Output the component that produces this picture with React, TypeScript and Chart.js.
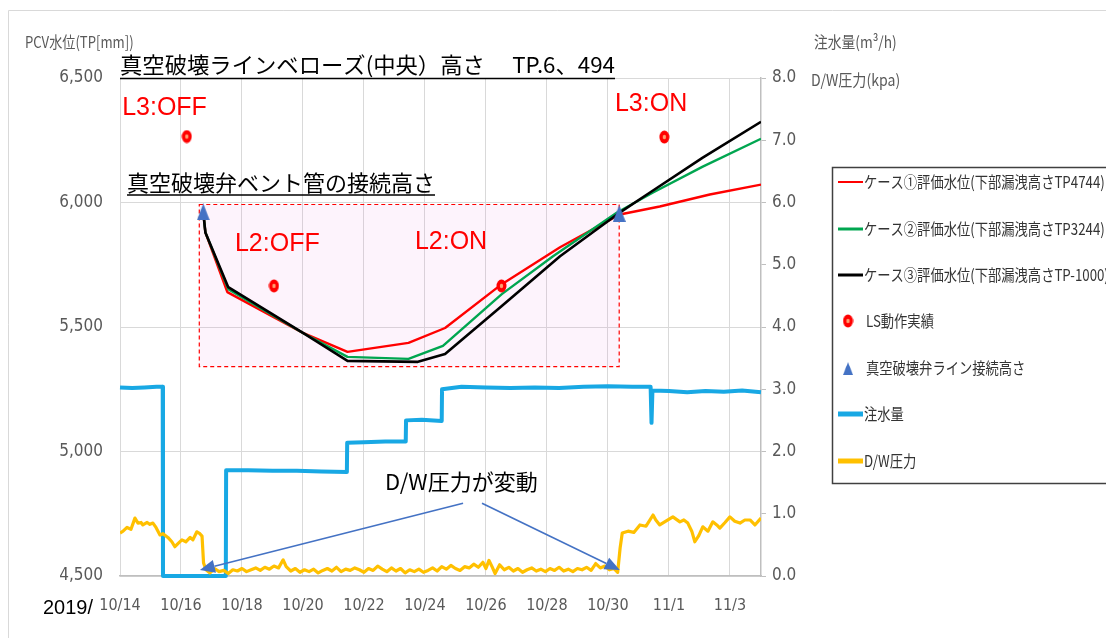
import React, { useEffect, useRef } from 'react';
import { Chart, registerables } from 'chart.js';

Chart.register(...registerables);

// ---------- data ----------
const xTickDays = [0, 2, 4, 6, 8, 10, 12, 14, 16, 18, 20];
const xTickLabels = ['10/14', '10/16', '10/18', '10/20', '10/22', '10/24', '10/26', '10/28', '10/30', '11/1', '11/3'];
const leftTicks = [4500, 5000, 5500, 6000, 6500];
const rightTicks = [0, 1, 2, 3, 4, 5, 6, 7, 8];

const case1Days = [2.73, 2.8, 3.52, 6.0, 7.46, 9.46, 10.66, 12.52, 14.43, 16.39, 17.7, 19.34, 21.02];
const case1Vals = [5960, 5880, 5640, 5476, 5400, 5436, 5496, 5672, 5820, 5952, 5984, 6032, 6072];

const case2Days = [2.73, 2.8, 3.55, 6.0, 7.46, 9.46, 10.59, 12.52, 14.2, 16.3, 17.48, 19.11, 21.02];
const case2Vals = [5960, 5880, 5652, 5476, 5380, 5372, 5424, 5632, 5784, 5960, 6040, 6144, 6256];

const case3Days = [2.73, 2.8, 3.55, 6.0, 7.46, 9.77, 10.66, 12.52, 14.43, 16.3, 17.38, 19.11, 21.02];
const case3Vals = [5960, 5880, 5660, 5476, 5364, 5360, 5392, 5584, 5784, 5952, 6040, 6180, 6324];

const lsDays = [2.19, 5.05, 12.51, 17.85];
const lsVals = [6265, 5665, 5665, 6263];

const ventDays = [2.73, 16.37];
const ventVals = [5962, 5956];

const flowDays = [0, 0.4, 0.8, 1.2, 1.4, 1.41, 3.47, 3.48, 4.2, 5.0, 5.8, 6.6, 7.44, 7.45, 8.0, 8.7, 9.37, 9.38, 9.9, 10.55, 10.56, 11.2, 12.0, 12.8, 13.6, 14.4, 15.2, 16.0, 16.8, 17.4, 17.43, 17.46, 18.0, 18.6, 19.2, 19.8, 20.4, 21.02];
const flowVals = [3.03, 3.02, 3.03, 3.04, 3.04, 0, 0, 1.7, 1.7, 1.69, 1.69, 1.68, 1.67, 2.14, 2.15, 2.16, 2.16, 2.5, 2.51, 2.49, 3.0, 3.04, 3.03, 3.02, 3.03, 3.02, 3.04, 3.05, 3.04, 3.04, 2.46, 2.98, 2.97, 2.95, 2.97, 2.96, 2.98, 2.95];

const dwDays = [
  0.0, 0.1, 0.23, 0.36, 0.49, 0.59, 0.69, 0.75, 0.89, 0.98, 1.08, 1.18, 1.31, 1.41, 1.57, 1.7, 1.8, 1.9, 2.03, 2.16,
  2.3, 2.39, 2.52, 2.62, 2.69, 2.74, 2.82, 2.95, 3.1, 3.25, 3.4, 3.55, 3.7, 3.85, 4.0, 4.15, 4.3, 4.45, 4.6, 4.75,
  4.9, 5.05, 5.2, 5.35, 5.45, 5.6, 5.75, 5.9, 6.05, 6.2, 6.35, 6.5, 6.65, 6.8, 6.95, 7.1, 7.25, 7.4, 7.55, 7.7,
  7.85, 8.0, 8.15, 8.3, 8.45, 8.6, 8.75, 8.9, 9.05, 9.2, 9.35, 9.5, 9.65, 9.8, 9.95, 10.1, 10.25, 10.4, 10.55, 10.7,
  10.85, 11.0, 11.15, 11.3, 11.45, 11.6, 11.75, 11.9, 12.0, 12.1, 12.2, 12.3, 12.45, 12.6, 12.75, 12.9, 13.05, 13.2, 13.35, 13.5,
  13.65, 13.8, 13.95, 14.1, 14.25, 14.4, 14.55, 14.7, 14.85, 15.0, 15.15, 15.3, 15.45, 15.6, 15.75, 15.9, 16.05, 16.2, 16.32, 16.4,
  16.47, 16.66, 16.85, 17.05, 17.25, 17.48, 17.57, 17.7, 17.9, 18.13, 18.36, 18.49, 18.62, 18.75, 18.85, 18.98, 19.11, 19.28, 19.44, 19.57,
  19.67, 19.84, 20.0, 20.16, 20.33, 20.49, 20.66, 20.82, 21.02,
];
const dwVals = [
  0.69, 0.72, 0.78, 0.75, 0.93, 0.85, 0.86, 0.82, 0.86, 0.83, 0.85, 0.78, 0.66, 0.68, 0.62, 0.55, 0.47, 0.52, 0.58, 0.55,
  0.62, 0.58, 0.71, 0.68, 0.64, 0.21, 0.1, 0.05, 0.12, 0.07, 0.09, 0.04, 0.1, 0.08, 0.12, 0.07, 0.1, 0.13, 0.09, 0.14,
  0.11, 0.16, 0.13, 0.26, 0.15, 0.08, 0.12, 0.06, 0.1, 0.07, 0.11, 0.05, 0.09, 0.12, 0.08, 0.14, 0.07, 0.11, 0.09, 0.13,
  0.1, 0.06, 0.12, 0.09, 0.16, 0.11, 0.07, 0.13, 0.08, 0.12, 0.05, 0.1, 0.07, 0.11, 0.06, 0.09, 0.13, 0.08, 0.15, 0.11,
  0.17, 0.12, 0.09, 0.15, 0.13, 0.19, 0.14, 0.22, 0.12, 0.25, 0.15, 0.04, 0.18, 0.1, 0.14, 0.08, 0.12, 0.06, 0.1, 0.13,
  0.08, 0.11, 0.07, 0.12, 0.09, 0.14, 0.08, 0.11, 0.07, 0.12, 0.1, 0.14, 0.09, 0.2, 0.13, 0.16, 0.1, 0.12, 0.06, 0.45,
  0.69, 0.72, 0.7, 0.82, 0.8, 0.98, 0.9, 0.82, 0.88, 0.95, 0.87, 0.9, 0.85, 0.72, 0.55, 0.65, 0.79, 0.72, 0.87, 0.82,
  0.77, 0.86, 0.95, 0.88, 0.85, 0.9, 0.9, 0.82, 0.93,
];

const seriesNames = [
  'ケース①評価水位(下部漏洩高さTP4744)',
  'ケース②評価水位(下部漏洩高さTP3244)',
  'ケース③評価水位(下部漏洩高さTP-1000)',
  'LS動作実績',
  '真空破壊弁ライン接続高さ',
  '注水量',
  'D/W圧力',
];

// ---------- helpers ----------
const zip = (xs: number[], ys: number[]) => xs.map((x, i) => ({ x, y: ys[i] }));

const CJK = "'Noto Sans CJK JP', 'Noto Sans', sans-serif";
const NARROW = "'Liberation Sans Narrow', 'DejaVu Sans Condensed', 'Roboto Condensed', Roboto, sans-serif";
const ARIAL = "'Liberation Sans', Arial, sans-serif";

function drawText(
  ctx: CanvasRenderingContext2D, text: string, x: number, y: number,
  font: string, color: string, sx = 1, align: CanvasTextAlign = 'left'
) {
  ctx.save();
  ctx.font = font;
  ctx.fillStyle = color;
  ctx.textBaseline = 'middle';
  ctx.textAlign = align;
  ctx.translate(x, y);
  ctx.scale(sx, 1);
  ctx.fillText(text, 0, 0);
  const w = ctx.measureText(text).width * sx;
  ctx.restore();
  return w;
}

function arrow(ctx: CanvasRenderingContext2D, x1: number, y1: number, x2: number, y2: number) {
  const ang = Math.atan2(y2 - y1, x2 - x1);
  const hl = 15, hw = 6.5;
  const bx = x2 - hl * Math.cos(ang), by = y2 - hl * Math.sin(ang);
  ctx.save();
  ctx.strokeStyle = '#4472c4';
  ctx.fillStyle = '#4472c4';
  ctx.lineWidth = 1.6;
  ctx.beginPath();
  ctx.moveTo(x1, y1);
  ctx.lineTo(bx, by);
  ctx.stroke();
  ctx.beginPath();
  ctx.moveTo(x2, y2);
  ctx.lineTo(bx + hw * Math.sin(ang), by - hw * Math.cos(ang));
  ctx.lineTo(bx - hw * Math.sin(ang), by + hw * Math.cos(ang));
  ctx.closePath();
  ctx.fill();
  ctx.restore();
}

function makeLsDot() {
  const c = document.createElement('canvas');
  c.width = 11; c.height = 14;
  const g = c.getContext('2d')!;
  g.fillStyle = '#ff0000';
  g.beginPath(); g.ellipse(5.5, 7, 5, 6.5, 0, 0, Math.PI * 2); g.fill();
  g.fillStyle = '#ffa070';
  g.beginPath(); g.ellipse(5.5, 7, 1.7, 2.2, 0, 0, Math.PI * 2); g.fill();
  return c;
}

function makeTri() {
  const c = document.createElement('canvas');
  c.width = 13; c.height = 17;
  const g = c.getContext('2d')!;
  g.fillStyle = '#4472c4';
  g.beginPath(); g.moveTo(6.5, 0); g.lineTo(13, 17); g.lineTo(0, 17); g.closePath(); g.fill();
  return c;
}

export default function App() {
  const ref = useRef<HTMLCanvasElement>(null);

  useEffect(() => {
    const lsImg = makeLsDot();
    const triImg = makeTri();

    const decor = {
      id: 'decor',
      beforeDatasetsDraw(chart: any) {
        const { ctx } = chart;
        const sx = chart.scales.x, sy = chart.scales.y;
        const x0 = sx.getPixelForValue(2.6), x1 = sx.getPixelForValue(16.37);
        const y0 = sy.getPixelForValue(5992), y1 = sy.getPixelForValue(5341);
        ctx.save();
        ctx.fillStyle = 'rgba(235, 120, 225, 0.09)';
        ctx.fillRect(x0, y0, x1 - x0, y1 - y0);
        ctx.strokeStyle = '#ff0000';
        ctx.lineWidth = 1.2;
        ctx.setLineDash([4, 3]);
        ctx.strokeRect(x0, y0, x1 - x0, y1 - y0);
        ctx.restore();
      },
      afterDraw(chart: any) {
        const { ctx } = chart;
        const sx = chart.scales.x, sy = chart.scales.y;
        const px = (d: number) => sx.getPixelForValue(d);
        const py = (v: number) => sy.getPixelForValue(v);

        // outer frame
        ctx.save();
        ctx.strokeStyle = '#d9d9d9';
        ctx.lineWidth = 1;
        ctx.beginPath();
        ctx.moveTo(8.5, 640); ctx.lineTo(8.5, 10.5); ctx.lineTo(1110, 10.5);
        ctx.stroke();
        ctx.restore();

        // titles in plot
        const tFont = `22px ${CJK}`;
        const tx = px(0);
        const tw = drawText(ctx, '真空破壊ラインベローズ(中央）高さ　 TP.6、494', tx, py(6552), tFont, '#000', 1.015);
        const ux = px(0.23);
        const uw = drawText(ctx, '真空破壊弁ベント管の接続高さ', ux, py(6080), tFont, '#000');
        ctx.save();
        ctx.strokeStyle = '#000';
        ctx.lineWidth = 1.5;
        ctx.beginPath();
        ctx.moveTo(tx, Math.round(py(6500)) + 0.5); ctx.lineTo(tx + tw, Math.round(py(6500)) + 0.5);
        ctx.moveTo(ux, py(6030)); ctx.lineTo(ux + uw, py(6030));
        ctx.stroke();
        ctx.restore();

        const rFont = `25px ${ARIAL}`;
        drawText(ctx, 'L3:OFF', px(0.07), py(6380), rFont, '#ff0000');
        drawText(ctx, 'L3:ON', px(16.23), py(6396), rFont, '#ff0000');
        drawText(ctx, 'L2:OFF', px(3.77), py(5832), rFont, '#ff0000');
        drawText(ctx, 'L2:ON', px(9.67), py(5840), rFont, '#ff0000');

        drawText(ctx, 'D/W圧力が変動', px(8.69), py(4880), tFont, '#000');
        arrow(ctx, px(11.25), py(4792), px(2.62), py(4524));
        arrow(ctx, px(11.87), py(4792), px(16.39), py(4524));

        // axis titles & year
        drawText(ctx, 'PCV水位(TP[mm])', 25, 42, `16px ${CJK}`, '#595959', 0.82);
        drawText(ctx, '注水量(m³/h)', 814, 42, `16px ${CJK}`, '#595959', 0.86);
        drawText(ctx, 'D/W圧力(kpa)', 811, 80, `16px ${CJK}`, '#595959', 0.88);
        drawText(ctx, '2019/', 43, 608, `21px ${ARIAL}`, '#000', 0.95);

        // legend
        ctx.save();
        ctx.strokeStyle = '#404040';
        ctx.lineWidth = 1.5;
        ctx.strokeRect(832.5, 167.5, 300, 316);
        ctx.restore();
        const rows = [182, 229, 275, 321, 368, 414, 461];
        const lFont = `16px ${CJK}`;
        const lsx = 0.83;
        const lineItems: [number, string, number][] = [
          [0, '#ff0000', 2], [1, '#00a650', 3], [2, '#000000', 3], [5, '#18a8e4', 5], [6, '#ffc000', 5],
        ];
        lineItems.forEach(([i, col, w]) => {
          ctx.save();
          ctx.strokeStyle = col; ctx.lineWidth = w;
          ctx.beginPath(); ctx.moveTo(838, rows[i]); ctx.lineTo(863, rows[i]); ctx.stroke();
          ctx.restore();
          drawText(ctx, seriesNames[i], 864, rows[i], lFont, '#333', lsx);
        });
        ctx.drawImage(lsImg, 848 - lsImg.width / 2, rows[3] - lsImg.height / 2);
        drawText(ctx, seriesNames[3], 866, rows[3], lFont, '#333', lsx);
        ctx.drawImage(triImg, 848 - 5, rows[4] - 6, 10, 13);
        drawText(ctx, seriesNames[4], 866, rows[4], lFont, '#333', lsx);
      },
    };

    const chart = new Chart(ref.current!, {
      type: 'line',
      data: {
        datasets: [
          { label: seriesNames[3], data: zip(lsDays, lsVals), yAxisID: 'y', showLine: false, pointStyle: lsImg as any, pointRadius: 6, order: 0 },
          { label: seriesNames[4], data: zip(ventDays, ventVals), yAxisID: 'y', showLine: false, pointStyle: triImg as any, pointRadius: 8, order: 0 },
          { label: seriesNames[2], data: zip(case3Days, case3Vals), yAxisID: 'y', borderColor: '#000000', borderWidth: 2.6, pointRadius: 0, order: 1 },
          { label: seriesNames[1], data: zip(case2Days, case2Vals), yAxisID: 'y', borderColor: '#00a650', borderWidth: 2.4, pointRadius: 0, order: 2 },
          { label: seriesNames[0], data: zip(case1Days, case1Vals), yAxisID: 'y', borderColor: '#ff0000', borderWidth: 2.4, pointRadius: 0, order: 3 },
          { label: seriesNames[6], data: zip(dwDays, dwVals), yAxisID: 'y1', borderColor: '#ffc000', borderWidth: 3.2, pointRadius: 0, order: 4 },
          { label: seriesNames[5], data: zip(flowDays, flowVals), yAxisID: 'y1', borderColor: '#18a8e4', borderWidth: 4, pointRadius: 0, order: 5, clip: 6 } as any,
        ],
      },
      options: {
        animation: false,
        responsive: true,
        maintainAspectRatio: false,
        events: [],
        layout: { padding: { top: 78, left: 0, right: 0, bottom: 0 } },
        elements: { line: { tension: 0, borderJoinStyle: 'round' } },
        plugins: { legend: { display: false }, tooltip: { enabled: false }, title: { display: false } },
        scales: {
          x: {
            type: 'linear',
            min: 0,
            max: 21.02,
            afterBuildTicks: (s: any) => { s.ticks = xTickDays.map((v) => ({ value: v })); },
            afterFit: (s: any) => { s.height = 62; },
            ticks: {
              callback: (_v: any, i: number) => xTickLabels[i],
              color: '#595959',
              font: { family: NARROW, size: 16 },
              padding: 20,
              maxRotation: 0,
              autoSkip: false,
            },
            grid: { color: '#d9d9d9', drawTicks: false, lineWidth: 1 },
            border: { color: '#bfbfbf', width: 1.5 },
          },
          y: {
            position: 'left',
            min: 4500,
            max: 6500,
            afterBuildTicks: (s: any) => { s.ticks = leftTicks.map((v) => ({ value: v })); },
            afterFit: (s: any) => { s.width = 120; },
            ticks: {
              callback: (v: any) => Number(v).toLocaleString('en-US'),
              color: '#595959',
              font: { family: NARROW, size: 17 },
              padding: 17,
            },
            grid: { color: '#d9d9d9', drawTicks: false },
            border: { display: false },
          },
          y1: {
            position: 'right',
            min: 0,
            max: 8,
            afterBuildTicks: (s: any) => { s.ticks = rightTicks.map((v) => ({ value: v })); },
            afterFit: (s: any) => { s.width = 345; },
            ticks: {
              callback: (v: any) => Number(v).toFixed(1),
              color: '#595959',
              font: { family: NARROW, size: 17 },
              padding: 6,
            },
            grid: { drawOnChartArea: false, drawTicks: true, tickLength: 5, color: '#bfbfbf' },
            border: { color: '#bfbfbf', width: 1.5 },
          },
        },
      } as any,
      plugins: [decor],
    });
    return () => chart.destroy();
  }, []);

  return (
    <div style={{ position: 'fixed', left: 0, top: 0, width: 1106, height: 638, background: '#fff' }}>
      <canvas ref={ref} />
    </div>
  );
}
